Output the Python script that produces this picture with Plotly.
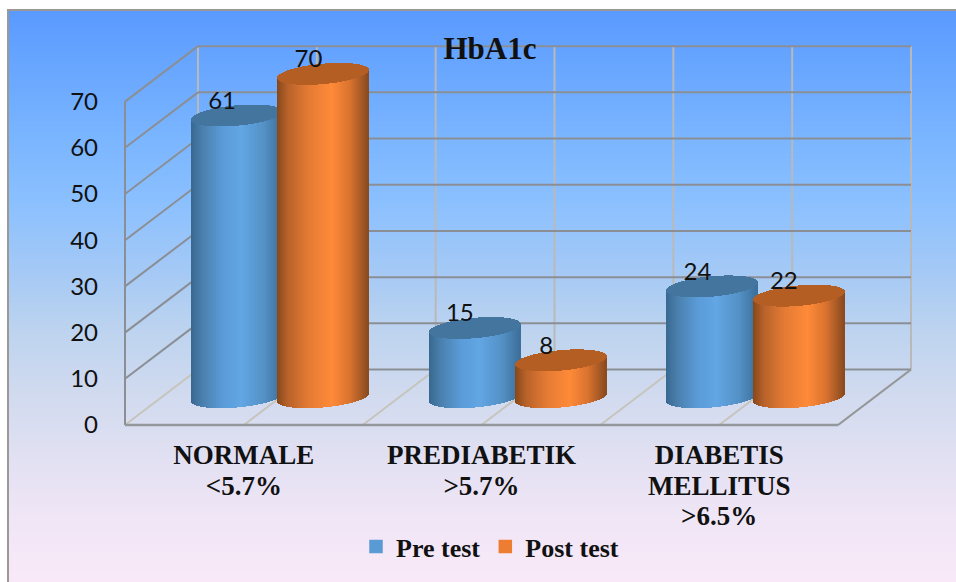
import math
import plotly.graph_objects as go

# Chart content
CATEGORIES = [["NORMALE", "&lt;5.7%"], ["PREDIABETIK", "&gt;5.7%"], ["DIABETIS", "MELLITUS", "&gt;6.5%"]]
PRE_TEST = [61, 15, 24]
POST_TEST = [70, 8, 22]
VALUE_TICKS = [0, 10, 20, 30, 40, 50, 60, 70]
TITLE = "HbA1c"

# Page and plot geometry
W, H = 956, 582
X0_PX, X_UNIT = 125, 237.67      # left edge of the floor, pixels per category
Y0_PX, Y_UNIT = 425, 4.62        # value 0 on the front plane, pixels per value unit
DEPTH_X, DEPTH_Y = 73 / X_UNIT, 12.0   # oblique offset of the back wall

RADIUS = 45.5 / X_UNIT           # cylinder half width
TILT = 4 / Y_UNIT                # rise of the ellipse towards its right end
MINOR = 10.2 / Y_UNIT            # ellipse half height
SPACING = 43.2 / X_UNIT          # cylinder centre offset from the group centre
STRIP = 1 / X_UNIT               # shading strip width

BG_COLORS = ["#5a9aff", "#6aa8ff", "#7ab5ff", "#8bc0ff", "#a2c8f6",
             "#bcd3ef", "#d0daef", "#e1e0f2", "#f0e6f6", "#f9e9f8"]
BLUE_STOPS = [(0, "#376890"), (0.12, "#4a7fac"), (0.35, "#5a9bd8"), (0.55, "#62a6e4"), (0.8, "#5491c6"), (1, "#3c6f9a")]
ORANGE_STOPS = [(0, "#87471b"), (0.12, "#b8622a"), (0.35, "#e57b34"), (0.6, "#ff8a38"), (0.8, "#d9732f"), (1, "#8a4a1e")]
BLUE_TOP, ORANGE_TOP = "#44759f", "#b55e23"
BLUE_KEY, ORANGE_KEY = "#5b9bd5", "#ed7d31"
WALL_DARK, WALL_LIGHT, FLOOR_LIGHT = "#8b8f95", "#b9b9b9", "#c6c4bd"
SERIF = "Liberation Serif"


def shade(stops, t):
    """Linear colour interpolation across a list of (position, hex) stops."""
    for (p0, c0), (p1, c1) in zip(stops, stops[1:]):
        if t <= p1:
            f = (t - p0) / (p1 - p0)
            rgb = [int(c0[i:i + 2], 16) * (1 - f) + int(c1[i:i + 2], 16) * f for i in (1, 3, 5)]
            return "rgb(%d,%d,%d)" % tuple(round(v) for v in rgb)
    return stops[-1][1]


def cylinder(center, value, stops, top_color):
    """One cylinder as two bar traces: shaded body strips and the top ellipse."""
    n = round(2 * RADIUS / STRIP)
    xs, lower, front, span, colors = [], [], [], [], []
    for i in range(n):
        c = (-RADIUS + (i + 0.5) * STRIP) / RADIUS
        s = math.sqrt(max(0, 1 - c * c))
        curve = DEPTH_Y / 2 + TILT * c - MINOR * s
        xs.append(center + c * RADIUS)
        lower.append(curve)
        front.append(curve + value)
        span.append(2 * MINOR * s)
        colors.append(shade(stops, (c + 1) / 2))
    body = go.Bar(x=xs, y=[value] * n, base=lower, width=STRIP * 1.1, marker=dict(color=colors, line_width=0),
                  xaxis="x2", yaxis="y2", showlegend=False, hoverinfo="skip")
    top = go.Bar(x=xs, y=span, base=front, width=STRIP * 1.1, marker=dict(color=top_color, line_width=0),
                 xaxis="x2", yaxis="y2", showlegend=False, hoverinfo="skip")
    return [body, top]


def tick_label(lines):
    # Glyphs a little larger than the axis font, which sets the line spacing
    return "<br>".join('<span style="font-size:27px">%s</span>' % line for line in lines)


fig = go.Figure()

# Page background gradient
n_bg = len(BG_COLORS) - 1
fig.add_trace(go.Heatmap(
    z=[[i, i] for i in range(n_bg + 1)], x=[0, 1], y=list(range(n_bg + 1)),
    colorscale=[[i / n_bg, c] for i, c in enumerate(BG_COLORS)],
    zmin=0, zmax=n_bg, zsmooth="best", showscale=False, hoverinfo="skip", xaxis="x", yaxis="y"))

# Cylinders, back to front within each group
centers = [i + 0.5 + DEPTH_X / 2 for i in range(len(CATEGORIES))]
for cx, pre, post in zip(centers, PRE_TEST, POST_TEST):
    for trace in cylinder(cx - SPACING, pre, BLUE_STOPS, BLUE_TOP):
        fig.add_trace(trace)
    for trace in cylinder(cx + SPACING, post, ORANGE_STOPS, ORANGE_TOP):
        fig.add_trace(trace)

# Value labels above each cylinder top
label_x, label_y, label_text = [], [], []
for cx, pre, post in zip(centers, PRE_TEST, POST_TEST):
    for offset, v in ((-SPACING, pre), (SPACING, post)):
        label_x.append(cx + offset - 15 / X_UNIT)
        label_y.append(v + DEPTH_Y / 2 + 12.5 / Y_UNIT)
        label_text.append(str(v))
fig.add_trace(go.Scatter(x=label_x, y=label_y, text=label_text, mode="text", textposition="middle center",
                         textfont=dict(family="Lato", size=24, color="#111111"), cliponaxis=False,
                         xaxis="x2", yaxis="y2", showlegend=False, hoverinfo="skip"))

# Legend entries
for name, color in (("Pre test", BLUE_KEY), ("Post test", ORANGE_KEY)):
    fig.add_trace(go.Bar(x=[None], y=[None], name=name, xaxis="x2", yaxis="y2",
                         marker=dict(color=color, line=dict(color=color, width=1.5))))


def segment(x0, y0, x1, y1, color, width=2):
    return dict(type="line", xref="x2", yref="y2", layer="below", x0=x0, y0=y0, x1=x1, y1=y1,
                line=dict(color=color, width=width))


# Walls and floor of the chart box
n_cat = len(CATEGORIES)
top_value = VALUE_TICKS[-1]
shapes = []
half_steps = [k * 0.5 for k in range(2 * n_cat + 1)]
for x in half_steps:
    shapes.append(segment(x + DEPTH_X, DEPTH_Y, x + DEPTH_X, DEPTH_Y + top_value, WALL_LIGHT))
    shapes.append(segment(x, 0, x + DEPTH_X, DEPTH_Y, FLOOR_LIGHT))
for v in VALUE_TICKS:
    shapes.append(segment(DEPTH_X, DEPTH_Y + v, n_cat + DEPTH_X, DEPTH_Y + v, WALL_DARK))
    if v > 0:
        shapes.append(segment(0, v, DEPTH_X, DEPTH_Y + v, WALL_DARK))
shapes.append(segment(0, 0, 0, top_value, WALL_DARK))
shapes.append(segment(0, 0, n_cat, 0, "#94979b", 2.5))
shapes.append(segment(n_cat, 0, n_cat + DEPTH_X, DEPTH_Y, "#94979b"))

fig.update_layout(
    width=W, height=H, margin=dict(l=0, r=0, t=0, b=0), autosize=False,
    paper_bgcolor="white", plot_bgcolor="rgba(0,0,0,0)",
    barmode="overlay", bargap=0, shapes=shapes,
    title=dict(text=TITLE, x=490 / W, y=1 - 48 / H, xanchor="center", yanchor="middle", xref="paper", yref="paper",
               font=dict(family=SERIF, size=31, color="#111111", weight="bold")),
    xaxis=dict(domain=[9 / W, 1], range=[0, 1], side="top", showline=True, linecolor="#9c9894", linewidth=2,
               showgrid=False, zeroline=False, showticklabels=False, ticks="", fixedrange=True, automargin=False),
    yaxis=dict(domain=[0, 1 - 11 / H], range=[n_bg, 0], showline=True, linecolor="#9c9894", linewidth=2,
               showgrid=False, zeroline=False, showticklabels=False, ticks="", fixedrange=True, automargin=False),
    xaxis2=dict(domain=[99 / W, 930 / W], anchor="y2", automargin=False,
                range=[(99 - X0_PX) / X_UNIT, (930 - X0_PX) / X_UNIT],
                tickmode="array", tickvals=[i + 0.5 for i in range(n_cat)],
                ticktext=[tick_label(lines) for lines in CATEGORIES],
                tickfont=dict(family=SERIF, size=23.5, color="#111111", weight="bold"),
                showgrid=False, zeroline=False, showline=False,
                ticks="outside", ticklen=5, tickcolor="rgba(0,0,0,0)", fixedrange=True),
    yaxis2=dict(domain=[1 - 430 / H, 1 - 30 / H], anchor="x2", automargin=False,
                range=[(Y0_PX - 430) / Y_UNIT, (Y0_PX - 30) / Y_UNIT],
                tickmode="array", tickvals=VALUE_TICKS,
                tickfont=dict(family="Lato", size=24, color="#111111"),
                showgrid=False, zeroline=False, showline=False, ticks="", fixedrange=True),
    legend=dict(orientation="h", x=356 / W, y=1 - 570 / H, xanchor="left", yanchor="bottom",
                bgcolor="rgba(0,0,0,0)", borderwidth=0,
                font=dict(family=SERIF, size=26, color="#111111", weight="bold")),
)

fig.write_html("out.html", config=dict(displayModeBar=False))
